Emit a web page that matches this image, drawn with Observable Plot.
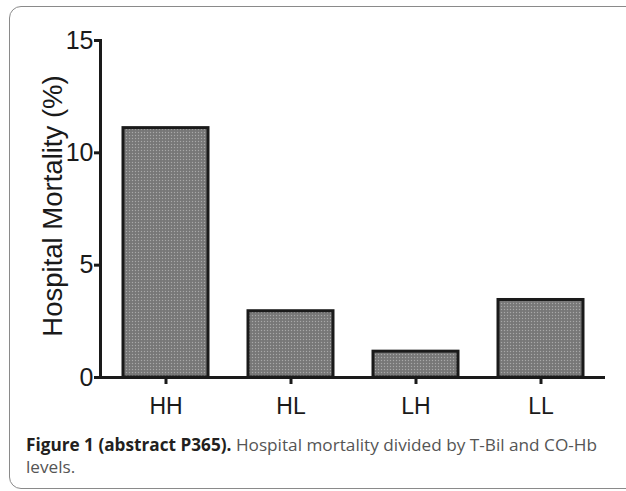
<!DOCTYPE html>
<html>
<head>
<meta charset="utf-8">
<script src="https://cdn.jsdelivr.net/npm/d3@7"></script>
<script src="https://cdn.jsdelivr.net/npm/@observablehq/plot@0.6"></script>
<style>
  html, body { margin: 0; padding: 0; width: 626px; height: 491px; overflow: hidden; background: #fff; }
  #box { position: absolute; left: 9px; top: 6px; width: 640px; height: 481px; border: 1.5px solid #8a8a8a; border-radius: 12px; }
  #chart { position: absolute; left: 0; top: 0; }
  #caption { position: absolute; left: 26px; top: 434px; width: 596px; font-family: "Open Sans", sans-serif; font-size: 17.2px; line-height: 22px; color: #555; letter-spacing: 0px; white-space: nowrap; }
  #caption b { color: #231f20; font-weight: 700; }
</style>
</head>
<body>
<div id="box"></div>
<div id="chart"></div>
<div id="caption"><b>Figure 1 (abstract P365).</b> Hospital mortality divided by T-Bil and CO-Hb<br>levels.</div>
<script>
const categories = ["HH", "HL", "LH", "LL"];
const mortality = [11.1, 2.95, 1.15, 3.45];
const yTicks = [0, 5, 10, 15];
const yLabel = "Hospital Mortality (%)";

const data = categories.map((c, i) => ({group: c, value: mortality[i]}));
const font = "'Liberation Sans', Arial, sans-serif";

const svg = Plot.plot({
  width: 626,
  height: 420,
  marginLeft: 100,
  marginRight: 21,
  marginTop: 40,
  marginBottom: 43,
  style: {fontFamily: font, color: "#1a1a1a", background: "transparent"},
  x: {domain: categories, paddingInner: 0.32, paddingOuter: 0.18, label: null},
  y: {domain: [0, 15], label: null},
  marks: [
    Plot.barY(data, {x: "group", y: "value", fill: "url(#dots)", stroke: "#1a1a1a", strokeWidth: 3}),
    Plot.ruleY([0], {stroke: "#1a1a1a", strokeWidth: 3}),
    Plot.frame({anchor: "left", stroke: "#1a1a1a", strokeWidth: 3}),
    Plot.axisY({ticks: yTicks, tickSize: 6, tickPadding: 1, strokeWidth: 3, fontSize: 25, label: null, tickFormat: d => String(d)}),
    Plot.axisX({tickSize: 7, tickPadding: 13, strokeWidth: 3, fontSize: 23, label: null}),
    Plot.text([yLabel], {frameAnchor: "left", textAnchor: "middle", rotate: -90, dx: -47, dy: -3, fontSize: 27.5, fill: "#1a1a1a"})
  ]
});

const ns = "http://www.w3.org/2000/svg";
const defs = document.createElementNS(ns, "defs");
defs.innerHTML = '<pattern id="dots" width="3" height="3" patternUnits="userSpaceOnUse"><rect width="3" height="3" fill="#7c7c7c"/><rect width="1" height="1" fill="#a8a8a8"/><rect x="1.5" y="1.5" width="1" height="1" fill="#666666"/></pattern>';
svg.insertBefore(defs, svg.firstChild);
document.getElementById("chart").appendChild(svg);
</script>
</body>
</html>
